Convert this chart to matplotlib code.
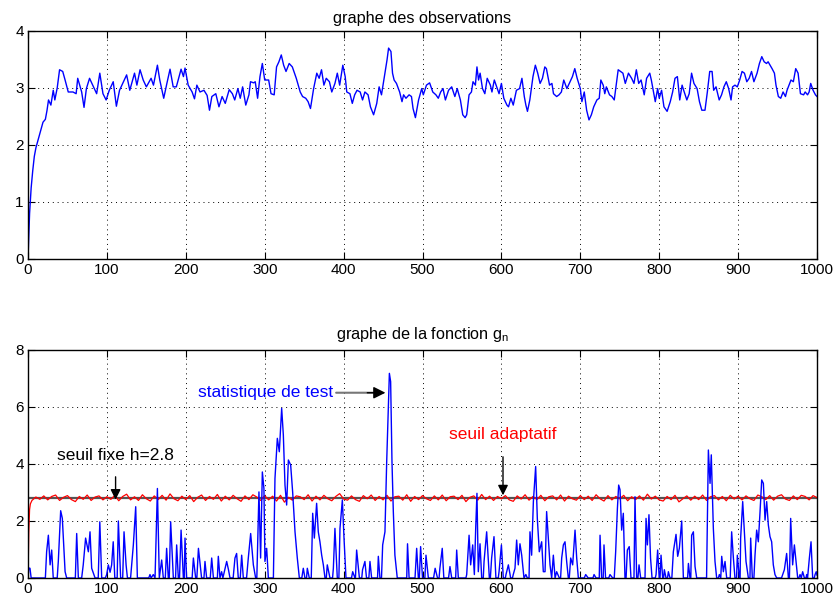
import matplotlib
matplotlib.use("Agg")
import matplotlib.pyplot as plt
import numpy as np

plt.rcParams['font.family'] = ['Liberation Sans', 'DejaVu Sans']
plt.rcParams['mathtext.fontset'] = 'custom'
plt.rcParams['mathtext.rm'] = 'Liberation Sans'
plt.rcParams['mathtext.it'] = 'Liberation Sans'

# observations
obs_x = [0, 2, 4, 6, 8, 10, 13, 16, 19, 22, 24, 26, 29, 32, 34, 37, 40, 44, 47, 51, 57, 61, 63, 68, 71, 74, 78, 82, 87, 91,
         95, 99, 103, 108, 112, 116, 120, 125, 129, 135, 138, 142, 146, 150, 156, 159, 164, 167, 172, 176, 180, 184, 188,
         194, 197, 199, 203, 208, 211, 214, 218, 223, 227, 230, 233, 238, 242, 246, 250, 255, 259, 262, 266, 269, 272,
         276, 280, 282, 286, 288, 291, 294, 297, 300, 305, 308, 312, 315, 318, 321, 324, 327, 331, 335, 340, 345, 348,
         352, 355, 358, 362, 366, 369, 372, 375, 378, 382, 385, 389, 392, 395, 399, 402, 404, 408, 411, 414, 417, 421,
         424, 427, 431, 434, 438, 442, 445, 448, 451, 455, 457, 460, 462, 464, 467, 471, 474, 476, 479, 483, 486, 488,
         491, 495, 499, 501, 505, 509, 513, 517, 520, 523, 526, 529, 533, 537, 541, 544, 548, 551, 554, 556, 559, 562,
         564, 567, 569, 571, 573, 576, 579, 582, 586, 588, 591, 594, 597, 600, 603, 607, 609, 612, 615, 619, 623, 626,
         629, 631, 633, 636, 640, 643, 646, 649, 652, 655, 657, 661, 664, 666, 670, 673, 676, 679, 683, 685, 688, 690,
         693, 696, 700, 702, 705, 708, 711, 714, 717, 721, 724, 726, 729, 731, 733, 737, 740, 743, 746, 748, 751, 754,
         757, 761, 765, 768, 771, 774, 777, 781, 784, 788, 790, 795, 798, 800, 803, 806, 810, 814, 817, 820, 823, 826,
         829, 831, 835, 838, 841, 844, 848, 851, 854, 858, 861, 864, 867, 869, 872, 876, 879, 882, 885, 888, 891, 893,
         896, 899, 902, 905, 908, 911, 914, 917, 920, 924, 927, 930, 933, 936, 938, 943, 946, 948, 951, 954, 957, 960,
         962, 967, 970, 973, 976, 979, 983, 985, 988, 990, 992, 995, 998, 1000]
obs_y = [0.0, 0.8, 1.25, 1.55, 1.8, 1.95, 2.1, 2.25, 2.4, 2.45, 2.6, 2.79, 2.7, 2.96, 2.79, 3.0, 3.32, 3.29, 3.14, 2.93,
         2.93, 2.9, 3.17, 2.93, 2.66, 2.99, 3.17, 3.05, 2.9, 3.26, 2.9, 2.79, 2.96, 3.11, 2.68, 2.96, 3.08, 3.23, 2.96,
         3.26, 3.05, 3.32, 3.14, 3.02, 3.17, 3.05, 3.4, 3.14, 2.82, 3.08, 3.33, 3.02, 3.02, 3.33, 3.2, 3.35, 3.05, 2.93,
         2.81, 3.05, 2.93, 2.96, 2.87, 2.61, 2.85, 2.9, 2.67, 2.85, 2.73, 2.97, 2.9, 2.79, 2.99, 2.82, 3.02, 2.7, 2.88,
         3.11, 3.09, 3.11, 2.82, 3.2, 3.43, 3.14, 3.14, 2.9, 2.88, 3.37, 3.46, 3.58, 3.4, 3.29, 3.43, 3.37, 3.17, 2.93,
         2.85, 2.82, 2.76, 2.64, 2.99, 3.26, 3.17, 3.32, 3.05, 3.17, 3.11, 2.93, 3.08, 3.26, 3.05, 3.4, 3.2, 2.93, 2.9,
         2.73, 2.88, 2.96, 2.93, 2.79, 2.93, 2.88, 2.67, 2.53, 2.73, 3.02, 2.88, 3.14, 3.49, 3.7, 3.64, 3.26, 3.14, 3.08,
         2.93, 2.76, 2.88, 2.82, 2.88, 2.85, 2.64, 2.48, 2.79, 2.99, 2.88, 3.05, 3.09, 2.93, 2.88, 2.82, 2.93, 2.99, 2.79,
         2.96, 3.02, 2.85, 2.99, 2.79, 2.53, 2.48, 2.53, 2.88, 2.93, 3.11, 3.05, 3.37, 3.14, 3.26, 2.99, 2.9, 3.17, 3.05,
         2.93, 3.14, 3.02, 2.9, 3.08, 2.82, 2.7, 2.67, 2.82, 2.7, 2.96, 2.99, 3.17, 2.85, 2.7, 2.59, 2.79, 3.2, 3.4, 3.26,
         3.08, 3.17, 3.37, 3.34, 3.05, 3.08, 2.9, 2.85, 2.88, 2.93, 3.14, 2.99, 3.05, 3.14, 3.2, 3.34, 3.17, 2.99, 2.76,
         2.93, 2.61, 2.44, 2.53, 2.67, 2.79, 2.82, 3.14, 3.05, 2.9, 3.02, 2.88, 2.85, 2.79, 3.11, 3.32, 3.29, 3.26, 3.08,
         3.26, 3.17, 3.08, 3.32, 3.08, 3.14, 2.88, 3.17, 3.26, 3.14, 2.76, 2.99, 2.82, 2.96, 2.67, 2.59, 2.76, 2.93, 3.17,
         3.2, 2.79, 3.05, 2.96, 2.79, 2.9, 3.26, 3.08, 2.99, 2.76, 2.61, 2.61, 2.93, 3.29, 3.29, 2.96, 3.02, 2.79, 2.88,
         3.02, 3.11, 2.99, 2.79, 3.02, 3.05, 3.02, 3.14, 3.29, 3.26, 3.11, 3.17, 3.29, 3.11, 3.26, 3.43, 3.55, 3.46, 3.43,
         3.46, 3.34, 3.26, 3.05, 2.85, 2.82, 2.93, 2.85, 2.96, 3.14, 3.11, 3.34, 3.26, 2.9, 2.88, 2.93, 2.88, 2.93, 3.08,
         2.96, 2.88, 2.85]

# statistique de test g_n
stat_x = [0, 1, 2.5, 4, 22, 23.6, 25.8, 28, 30, 32, 37, 38.4, 41.4, 43.5, 47, 49, 60, 61.7, 63.8, 68, 70, 73, 76.5,
          78.6, 80.7, 85, 89, 91, 93.4, 98, 99.7, 101.8, 104, 106, 108, 110, 113, 114.5, 117.4, 120, 121.7, 124.3, 126,
          130, 131.4, 133.5, 136.5, 138.6, 153, 154.6, 156, 158.8, 161, 164, 166.4, 169.4, 171.5, 174, 175.7, 177.8, 179,
          180.8, 184.2, 187, 188.4, 190.5, 192, 194, 196.9, 198, 199, 201, 208, 209.6, 212.5, 214, 216, 220, 223, 224.3,
          226.4, 231, 232.8, 235, 240, 241.2, 243.3, 245.4, 247, 251.8, 254, 256, 260, 262.3, 264.4, 266.5, 269, 270.8,
          272.9, 277, 279.2, 282.2, 285.6, 288.5, 290, 291, 292.7, 294.8, 297, 299, 300.3, 302.5, 304.6, 311, 313, 316,
          318.5, 321.5, 323.6, 325.7, 327.8, 330, 332.9, 335.4, 338.4, 341.3, 343.9, 347, 348.9, 351, 353, 354, 356.5,
          359, 360.8, 362.9, 365.8, 367.9, 370, 372.2, 374.3, 376.4, 378, 379.3, 382.7, 386, 387, 389, 392, 394, 395.4,
          398.4, 400.5, 403, 410, 411.5, 414.4, 415, 416.5, 420, 423, 424, 427, 429, 432, 433.4, 435.5, 443, 444, 446,
          448, 449.5, 452.4, 454.6, 458, 459.6, 461.3, 463, 465, 468, 480, 481, 483, 490.5, 492.6, 494.7, 496, 497.6,
          500, 503, 504.4, 507.4, 514, 516, 519, 521, 522, 525, 527, 533, 534.8, 537, 542, 543.3, 545.4, 555, 556, 559,
          561, 563.6, 565.7, 567.4, 569, 570.7, 572.9, 575, 577, 578, 581.3, 584.7, 586, 587.6, 590.6, 593, 596, 597,
          600, 602.4, 605, 605.8, 608.8, 611.7, 614, 615, 617.2, 619.3, 621.4, 623.5, 625.7, 628.6, 631, 632.8, 635,
          636.2, 638.3, 640.5, 643.4, 645.5, 648, 651, 653.1, 655.3, 657.3, 659.5, 661.6, 663.7, 665.8, 668, 670, 673.4,
          675, 676.4, 678.5, 680.6, 682.7, 684.8, 686, 687.8, 690.3, 693.3, 695.4, 697.5, 705, 706.8, 710, 716, 717.4,
          720, 724, 725, 727, 729, 730, 732, 736, 737.6, 741, 743, 744.8, 747, 748.6, 750.3, 752.4, 754.5, 756.6, 758,
          759.6, 762, 764.2, 768, 769.3, 771.4, 773, 774.4, 776.5, 782, 783.3, 785, 787, 789, 790.9, 795, 796, 798, 800,
          801, 802.3, 804.4, 805.5, 806.5, 808.6, 810.5, 811.6, 813.7, 816, 817.9, 821.3, 823.4, 825.5, 828.5, 830.6,
          836, 837, 839, 840, 841.1, 843.3, 845.4, 847.5, 860, 862.3, 864.4, 866, 868.6, 870.7, 872.8, 875, 876.2, 878,
          879.2, 881.3, 883.4, 885.5, 890, 891.8, 894, 896, 898, 899, 901.6, 902.5, 903.2, 905.8, 907.9, 910, 913, 915,
          915.9, 918, 920, 921.4, 923.5, 925.6, 927.8, 929.9, 932, 934.1, 936.2, 938.3, 940.4, 942.5, 944.6, 946.7,
          948.9, 955, 956.5, 958.6, 961.5, 963.7, 965, 966.6, 969.1, 971.3, 973.4, 975.5, 977, 978.5, 980, 981.8, 984,
          986, 986.9, 988, 990.3, 992.4, 994.5, 996.5, 997.5, 999, 1000]
stat_y = [0, 0.35, 0.34, 0, 0, 0.92, 1.5, 0.46, 0.98, 0, 0, 0.58, 2.36, 2.09, 0.22, 0, 0, 1.56, 0, 0, 0.46, 1.4, 0.92,
          1.62, 0.34, 0, 0, 1.97, 0, 0, 0.12, 0.46, 0.2, 0.46, 1.27, 0, 0, 2.0, 0, 0, 1.62, 0.46, 0, 0, 0.46, 1.16, 2.5,
          0, 0, 0.12, 0, 0.12, 0, 3.14, 0, 0.63, 0, 0, 1.04, 0, 0, 1.97, 0, 0, 1.16, 0, 0, 1.68, 0, 0, 1.4, 0, 0, 0.7, 0,
          0, 1.04, 0, 0, 0.58, 0, 0, 0.7, 0, 0, 0.76, 0, 0.22, 0, 0.58, 0.3, 0, 0, 0.7, 0.86, 0, 0, 0.8, 0, 0, 0.7,
          1.56, 0.46, 0, 0, 1.16, 3.02, 0.7, 3.72, 3.14, 0.58, 1.04, 0, 0, 3.49, 4.9, 4.43, 5.95, 5.02, 3.26, 2.56, 4.14,
          3.96, 3.02, 1.62, 0.7, 0, 0, 0.34, 0, 0, 0.34, 0, 0, 2.27, 1.4, 2.62, 1.62, 1.27, 0.8, 0.46, 0, 0, 0.46, 0, 0,
          0.34, 1.74, 0, 0, 1.74, 2.74, 1.4, 0, 0, 0.22, 0, 0, 0.98, 0, 0, 0.29, 0.58, 0, 0, 0.58, 0, 0, 0.76, 0, 0,
          1.16, 1.62, 4.08, 7.18, 6.89, 4.08, 2.33, 0.8, 0, 0, 1.2, 0, 0, 1.04, 0, 0, 1.1, 0, 0, 0.8, 0, 0, 0.34, 0, 0,
          0.34, 1.04, 0, 0, 0.4, 0, 0, 0.98, 0, 0, 0.12, 1.5, 0.46, 1.16, 0.12, 1.74, 2.97, 0.22, 1.2, 0, 0, 0.58, 1.62,
          0, 0, 0.7, 1.45, 0, 0, 0.22, 1.16, 0, 0, 0.12, 0.46, 0, 0, 0.12, 0.34, 1.33, 0.46, 1.2, 0.8, 0, 0.12, 0, 0,
          1.62, 0.8, 2.68, 3.91, 2.09, 0.92, 1.27, 0.22, 0.22, 2.33, 1.4, 0.46, 0, 0.8, 0, 0.22, 0, 0, 0.7, 1.16, 1.27,
          0.58, 0, 0, 0.7, 0.46, 1.68, 0.7, 0, 0, 0.12, 0, 0, 0.12, 0, 0, 1.5, 0, 0, 1.16, 0, 0, 0.12, 0, 0, 0.92, 2.44,
          3.26, 3.1, 1.68, 2.27, 0, 0, 0.98, 1.1, 0, 0, 2.85, 0, 0, 0.46, 0, 0, 2.09, 1.16, 2.22, 0.7, 0, 0, 0.12, 0.98,
          0, 0, 0.8, 0, 0, 0.29, 0, 0, 0.22, 0, 0, 0.92, 1.53, 0.76, 1.04, 2.0, 0, 0, 0.51, 0, 0, 1.5, 1.62, 0.4, 0, 0,
          4.49, 3.32, 4.32, 1.74, 0.58, 0, 0, 0.12, 0, 0.76, 0.22, 0.58, 0, 0, 1.62, 0.7, 0, 0, 0.8, 0, 0, 1.4, 2.68,
          1.62, 0.58, 0, 0, 1.4, 0, 0, 0.8, 1.68, 1.27, 2.33, 3.44, 3.32, 2.03, 2.68, 1.86, 1.45, 1.27, 0.46, 0.12, 0,
          0, 0.12, 0.29, 0.86, 0, 0, 2.09, 0.46, 1.16, 0.58, 0, 0, 0.12, 0, 0.22, 0, 0, 0.12, 0, 0.7, 1.27, 0, 0, 0.12,
          0.22, 0.1]

# seuil adaptatif (start, then one value every 5 samples from n=5)
seuil_start_x = [0, 1, 2, 3]
seuil_start_y = [0.0, 1.6, 2.4, 2.6]
seuil_y = [2.72, 2.84, 2.76, 2.88, 2.74, 2.86, 2.91, 2.72, 2.83, 2.89, 2.75, 2.68, 2.86, 2.76, 2.91, 2.72, 2.84, 2.88, 2.74, 2.85,
           2.76, 2.90, 2.71, 2.86, 2.94, 2.74, 2.85, 2.72, 2.92, 2.78, 2.70, 2.88, 2.75, 2.90, 2.73, 2.95, 2.78, 2.71, 2.87, 2.75,
           2.89, 2.68, 2.83, 2.91, 2.72, 2.86, 2.76, 2.93, 2.70, 2.87, 2.74, 2.90, 2.78, 2.69, 2.88, 2.75, 2.92, 2.84, 2.72, 2.89,
           2.74, 2.87, 2.70, 2.90, 2.66, 2.83, 2.73, 2.88, 2.85, 2.75, 2.92, 2.70, 2.87, 2.74, 2.90, 2.78, 2.71, 2.86, 2.96, 2.77,
           2.73, 2.88, 2.75, 2.69, 2.89, 2.78, 2.91, 2.72, 2.86, 2.74, 2.90, 2.70, 2.85, 2.87, 2.73, 2.92, 2.69, 2.86, 2.75, 2.89,
           2.78, 2.72, 2.88, 2.74, 2.91, 2.71, 2.85, 2.87, 2.75, 2.90, 2.68, 2.83, 2.88, 2.73, 2.93, 2.75, 2.87, 2.72, 2.86, 2.78,
           2.89, 2.74, 2.69, 2.88, 2.77, 2.92, 2.73, 2.86, 2.75, 2.90, 2.71, 2.85, 2.88, 2.74, 2.91, 2.70, 2.87, 2.78, 2.73, 2.89,
           2.75, 2.87, 2.72, 2.92, 2.78, 2.70, 2.89, 2.74, 2.86, 2.78, 2.90, 2.71, 2.85, 2.75, 2.88, 2.73, 2.94, 2.77, 2.87, 2.74,
           2.70, 2.86, 2.75, 2.90, 2.67, 2.78, 2.88, 2.73, 2.87, 2.75, 2.91, 2.72, 2.85, 2.89, 2.74, 2.86, 2.71, 2.90, 2.77, 2.87,
           2.74, 2.88, 2.78, 2.72, 2.91, 2.85, 2.75, 2.89, 2.73, 2.87, 2.92, 2.77, 2.72, 2.88, 2.75, 2.90, 2.86, 2.74, 2.89, 2.82]
h = 2.8

seuil_x = seuil_start_x + list(np.arange(1, len(seuil_y) + 1) * 5)
seuil_all = seuil_start_y + seuil_y


def style_axes(ax, ymax, ystep):
    ax.set_xlim(0, 1000)
    ax.set_ylim(0, ymax)
    ax.set_xticks(np.arange(0, 1001, 100))
    ax.set_yticks(np.arange(0, ymax + 0.1, ystep))
    ax.grid(True, linestyle=(0, (1, 4)), color='k', linewidth=0.7)
    ax.tick_params(direction='in', top=True, right=True, labelsize=11, length=5, pad=3)
    for s in ax.spines.values():
        s.set_linewidth(1.0)


fig = plt.figure(figsize=(8.36, 6.03), dpi=100)
ax1 = fig.add_axes([0.0335, 0.5705, 0.9438, 0.3781])
ax2 = fig.add_axes([0.0335, 0.0415, 0.9438, 0.3781])

ax1.plot(obs_x, obs_y, color='b', linewidth=1.0)
style_axes(ax1, 4, 1)
ax1.set_title('graphe des observations', fontsize=11.7, pad=6)

ax2.axhline(h, color='#555555', linewidth=1.6)
ax2.plot(seuil_x, seuil_all, color='r', linewidth=0.9)
ax2.plot(stat_x, stat_y, color='b', linewidth=1.0)
style_axes(ax2, 8, 2)
ax2.set_title(r'graphe de la fonction g$_{\mathrm{n}}$', fontsize=11.7, pad=8)

# statistique de test: gray shaft, black head
ax2.annotate('statistique de test', xy=(445, 6.5), xytext=(387, 6.5), color='b', fontsize=12.5,
             ha='right', va='center',
             arrowprops=dict(arrowstyle='-', color='#777777', lw=1.5, shrinkA=0, shrinkB=0))
ax2.annotate('', xy=(453, 6.5), xytext=(430, 6.5),
             arrowprops=dict(arrowstyle='-|>', color='k', lw=1.0, mutation_scale=18, shrinkA=0, shrinkB=0))
ax2.annotate('seuil fixe h=2.8', xy=(111, 2.75), xytext=(111, 4.3), color='k', fontsize=12.5,
             ha='center', va='center',
             arrowprops=dict(arrowstyle='-|>', color='k', lw=1.0, mutation_scale=15, shrinkA=8, shrinkB=0))
ax2.annotate('seuil adaptatif', xy=(602, 2.9), xytext=(602, 5.05), color='r', fontsize=12.5,
             ha='center', va='center',
             arrowprops=dict(arrowstyle='-|>', color='k', lw=1.0, mutation_scale=15, shrinkA=9, shrinkB=0))

fig.savefig('out.png', dpi=100)
